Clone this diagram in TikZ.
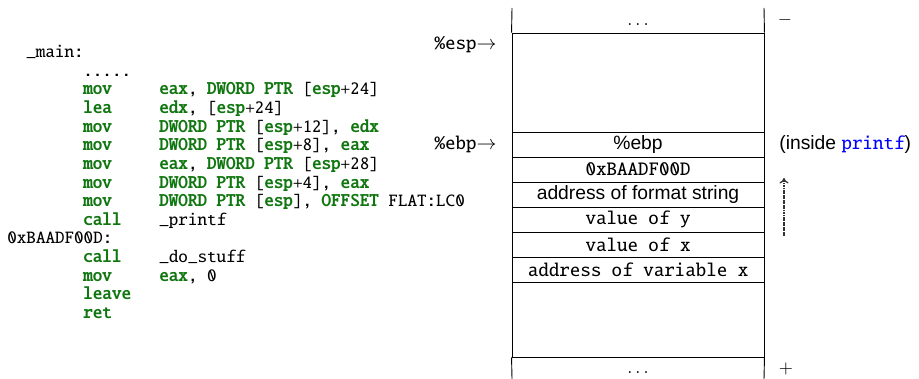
\documentclass[tikz,border=0pt]{standalone}
\usepackage[T1]{fontenc}
\usepackage{fontspec}
\setsansfont{Liberation Sans}
\usepackage{tikz}
\usetikzlibrary{positioning,arrows.meta}
\definecolor{asmgreen}{RGB}{16,118,16}
\newcommand\asmfont{\fontencoding{T1}\fontfamily{txtt}\fontsize{10}{12}\selectfont}
\newcommand\stkfont{\fontencoding{T1}\fontfamily{txtt}\fontsize{11}{13}\selectfont}
\newcommand\stksans{\sffamily\fontsize{10.6}{12}\selectfont}
\newcommand\asmkw[1]{\textcolor{asmgreen}{\bfseries #1}}
\def\px{0.55pt}
\tikzset{
 asm line/.style={anchor=base west,inner sep=0pt,font=\asmfont},
 stk row/.style={draw,line width=.5pt,rectangle,inner sep=0pt,
                 minimum width=252*\px,minimum height=25*\px},
 stk gap/.style={draw,line width=.5pt,rectangle,inner sep=0pt,
                 minimum width=252*\px},
 stk edge/.style={line width=.5pt},
 stk ptr/.style={anchor=east,inner sep=0pt,font=\stkfont},
 stk dots/.style={anchor=base,inner sep=0pt},
 stk sign/.style={inner sep=0pt},
 stk arrow/.style={-{To[length=3pt,width=5pt]},line width=.7pt,
                   dash pattern=on 1pt off .35pt,black!80}
}

\begin{document}
\begin{tikzpicture}[x=0.55pt,y=-0.55pt]
 \useasboundingbox (0,0) rectangle (919,379);
 % assembly listing
 \node[asm line] (lmain) at (26,57.8) {\_main:};
 \node[asm line] (ldots) at (83,76.4) {.....};
 \node[asm line] (lret) at (7,{57.8+18.6*10}) {0xBAADF00D:};
 \foreach \i/\mnem in {2/mov,3/lea,4/mov,5/mov,6/mov,7/mov,8/mov,
                      9/call,11/call,12/mov,13/leave,14/ret}{
   \node[asm line] (op\i) at (83,{57.8+18.6*\i}) {\asmkw{\mnem}};
 }
 \foreach \i/\opnd in {
   2/{\asmkw{eax}, \asmkw{DWORD} \asmkw{PTR} [\asmkw{esp}+24]},
   3/{\asmkw{edx}, [\asmkw{esp}+24]},
   4/{\asmkw{DWORD} \asmkw{PTR} [\asmkw{esp}+12], \asmkw{edx}},
   5/{\asmkw{DWORD} \asmkw{PTR} [\asmkw{esp}+8], \asmkw{eax}},
   6/{\asmkw{eax}, \asmkw{DWORD} \asmkw{PTR} [\asmkw{esp}+28]},
   7/{\asmkw{DWORD} \asmkw{PTR} [\asmkw{esp}+4], \asmkw{eax}},
   8/{\asmkw{DWORD} \asmkw{PTR} [\asmkw{esp}], \asmkw{OFFSET} FLAT:LC0},
   9/{\_printf},
   11/{\_do\_stuff},
   12/{\asmkw{eax}, 0}}{
   \node[asm line] (arg\i) at (159,{57.8+18.6*\i}) {\opnd};
 }
 % the stack
 \node[stk gap,minimum height=99*\px] (gtop) at (638,82.5) {};
 \foreach \i/\txt in {1/{\stksans\%ebp},2/{\stkfont 0xBAADF00D},
                     3/{\stksans address of format string},
                     4/{\stkfont value of y},5/{\stkfont value of x},
                     6/{\stkfont address of variable x}}{
   \node[stk row] (r\i) at (638,{119.5+25*\i}) {\txt};
 }
 \node[stk gap,minimum height=75*\px] (gbot) at (638,319.5) {};
 \coordinate (tl) at (512,8);
 \coordinate (tr) at (764,8);
 \coordinate (bl) at (512,379);
 \coordinate (br) at (764,379);
 \draw[stk edge] (tl) -- (gtop.north west) (tr) -- (gtop.north east);
 \draw[stk edge] (bl) -- (gbot.south west) (br) -- (gbot.south east);
 \node[stk dots] (dtop) at (638,26) {$\dots$};
 \node[stk dots] (dbot) at (638,373) {$\dots$};
 % pointers and notes
 \node[stk ptr] (esp) at (497,45) {\%esp$\to$};
 \node[stk ptr] (ebp) at (497,144.5) {\%ebp$\to$};
 \node[anchor=west,inner sep=0pt,font=\stksans] (inside) at (779,144.5)
   {(inside \textcolor{blue}{\stkfont printf})};
 \node[stk sign] (minus) at (785,20) {$-$};
 \node[stk sign] (plus) at (786,369) {$+$};
 \coordinate (ars) at (784,236);
 \coordinate (are) at (784,178);
 \draw[stk arrow] (ars) -- (are);
\end{tikzpicture}
\end{document}
